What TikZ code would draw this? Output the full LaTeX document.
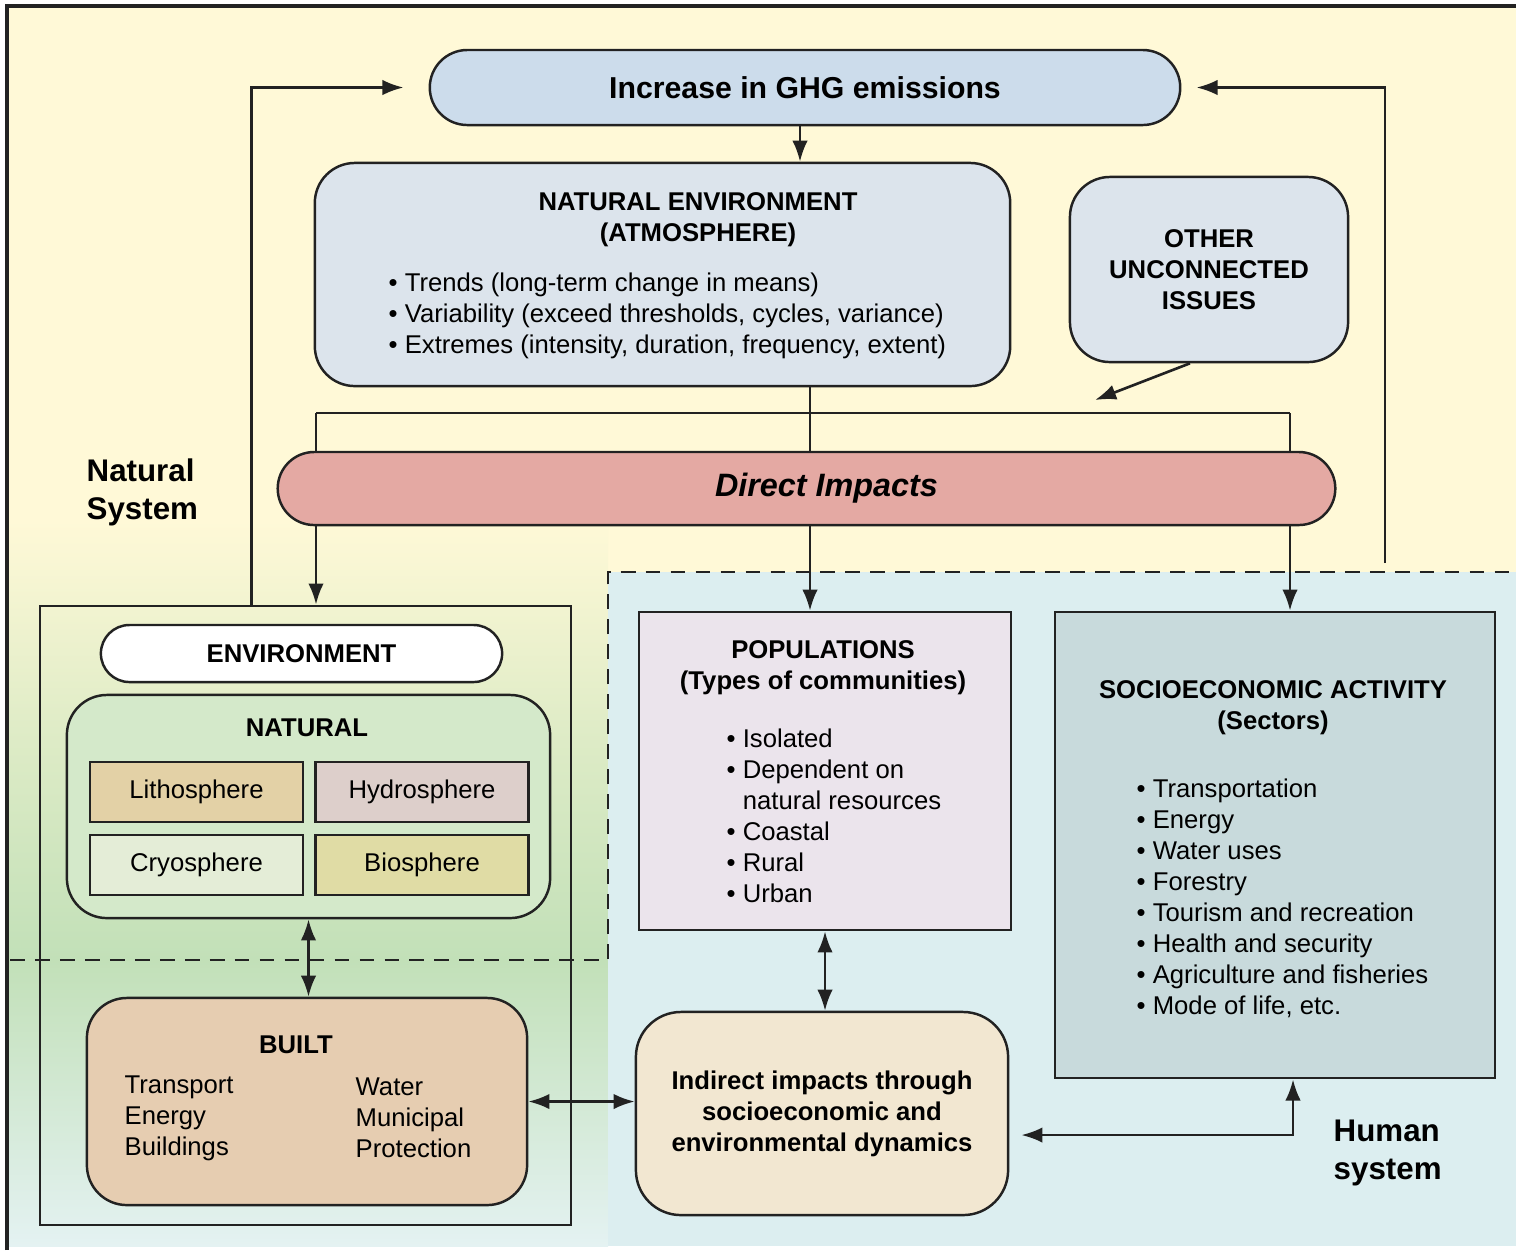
\documentclass[tikz,border=0pt]{standalone}
\usepackage{fontspec}
\setmainfont{Liberation Sans}
\usepackage{tikz}
\usetikzlibrary{arrows.meta, shapes.misc, calc}
\usepackage{xcolor}
\definecolor{lineblack}{HTML}{222222}
\definecolor{paper}{HTML}{FFF9D7}
\definecolor{leafgreen}{HTML}{C2E0B8}
\definecolor{paleblue}{HTML}{E4F2F2}
\definecolor{humanblue}{HTML}{DCEEF0}
\definecolor{ghgblue}{HTML}{CCDCEB}
\definecolor{envblue}{HTML}{DCE4EC}
\definecolor{impactred}{HTML}{E4A9A3}
\definecolor{naturalgreen}{HTML}{D4E9CA}
\definecolor{lithotan}{HTML}{E3D1A6}
\definecolor{hydrogrey}{HTML}{DDCFCB}
\definecolor{cryogreen}{HTML}{E4EDD7}
\definecolor{biokhaki}{HTML}{E0DCA5}
\definecolor{builtpeach}{HTML}{E6CDB1}
\definecolor{indirectcream}{HTML}{F2E7D1}
\definecolor{poplilac}{HTML}{EBE4EC}
\definecolor{socioteal}{HTML}{C8DADC}

\begin{document}
\begin{tikzpicture}[x=0.01cm, y=-0.01cm,
    font=\fontsize{7.3}{8.8}\selectfont,
    >={Latex[length=6pt,width=4.4pt]},
    box/.style={draw=lineblack, line width=0.7pt, inner sep=0pt},
    pill/.style={box, rounded rectangle},
    softbox/.style={box, rounded corners=0.4cm},
    spherebox/.style={box, minimum width=2.13cm, minimum height=0.6cm},
    link/.style={line width=0.75pt, draw=lineblack},
    zone/.style={line width=0.75pt, draw=lineblack, dash pattern=on 4.2pt off 2.9pt},
    head/.style={font=\fontsize{7.3}{8.8}\selectfont\bfseries, align=center},
    bullets/.style={align=left, anchor=west, inner sep=0pt},
    sysname/.style={font=\fontsize{8.9}{10.8}\selectfont\bfseries, align=left, anchor=west, inner sep=0pt}]
    \useasboundingbox (0,0) rectangle (1516,1250);
    % Background
    \fill[paper] (8,6) rectangle (1516,1246);
    \shade[top color=paper, bottom color=leafgreen, middle color=leafgreen!55!paper] (8,520) rectangle (608,960);
    \shade[top color=leafgreen, bottom color=paleblue] (8,960) rectangle (608,1246);
    \fill[humanblue] (608,572) rectangle (1516,1246);
    \draw[line width=1.1pt, lineblack] (7,1250) -- (7,6) -- (1516,6);
    \draw[zone] (10,960) -- (608,960) -- (608,572) -- (1516,572);
    % Top
    \node[pill, fill=ghgblue, minimum width=7.5cm, minimum height=0.75cm,
          font=\fontsize{8.6}{10}\selectfont\bfseries] (ghg) at (805,87.5) {Increase in GHG emissions};
    \node[softbox, fill=envblue, minimum width=6.95cm, minimum height=2.23cm] (natenv) at (662.5,274.5) {};
    \node[head] at (698,220) {NATURAL ENVIRONMENT\\(ATMOSPHERE)};
    \node[bullets] at (388,316) {\textbullet\ Trends (long-term change in means)\\
        \textbullet\ Variability (exceed thresholds, cycles, variance)\\
        \textbullet\ Extremes (intensity, duration, frequency, extent)};
    \node[softbox, fill=envblue, minimum width=2.78cm, minimum height=1.85cm, head] (other) at (1209,269.5) {OTHER\\UNCONNECTED\\ISSUES};
    \node[pill, fill=impactred, minimum width=10.57cm, minimum height=0.73cm,
          font=\fontsize{9.2}{11}\selectfont\bfseries\itshape] (direct) at (806.5,488.5) {\hspace{0.4cm}Direct Impacts};
    \node[sysname] at (86,492) {Natural\\System};
    \node[sysname] at (1333,1153) {Human\\system};
    % Natural system
    \node[box, minimum width=5.31cm, minimum height=6.19cm] (natbox) at (305.5,915.5) {};
    \node[pill, fill=white, minimum width=4.01cm, minimum height=0.57cm, head] (envpill) at (301.5,653.5) {ENVIRONMENT};
    \node[softbox, fill=naturalgreen, minimum width=4.83cm, minimum height=2.23cm] (natural) at (308.5,806.5) {};
    \node[head] at (307,728) {NATURAL};
    \node[spherebox, fill=lithotan] (litho) at (196.5,792) {Lithosphere};
    \node[spherebox, fill=hydrogrey] (hydro) at (422,792) {Hydrosphere};
    \node[spherebox, fill=cryogreen] (cryo) at (196.5,865) {Cryosphere};
    \node[spherebox, fill=biokhaki] (bio) at (422,865) {Biosphere};
    \node[softbox, fill=builtpeach, minimum width=4.4cm, minimum height=2.07cm] (built) at (307,1101.5) {};
    \node[head] at (296,1045) {BUILT};
    \node[bullets] at (124,1118) {Transport\\Energy\\Buildings};
    \node[bullets] at (355,1118) {Water\\Municipal\\Protection};
    % Human system
    \node[box, fill=poplilac, minimum width=3.72cm, minimum height=3.18cm] (pop) at (825,771) {};
    \node[head] at (823,668) {POPULATIONS\\(Types of communities)};
    \node[bullets] at (726,816) {\textbullet\ Isolated\\
        \textbullet\ Dependent on\\
        \phantom{\textbullet\ }natural resources\\
        \textbullet\ Coastal\\
        \textbullet\ Rural\\
        \textbullet\ Urban};
    \node[box, fill=socioteal, minimum width=4.4cm, minimum height=4.66cm] (socio) at (1275,845) {};
    \node[head] at (1273,708) {SOCIOECONOMIC ACTIVITY\\(Sectors)};
    \node[bullets] at (1136,898.5) {\textbullet\ Transportation\\
        \textbullet\ Energy\\
        \textbullet\ Water uses\\
        \textbullet\ Forestry\\
        \textbullet\ Tourism and recreation\\
        \textbullet\ Health and security\\
        \textbullet\ Agriculture and fisheries\\
        \textbullet\ Mode of life, etc.};
    \node[softbox, fill=indirectcream, minimum width=3.72cm, minimum height=2.03cm, rounded corners=0.45cm, head] (indirect) at (822,1113.5)
        {Indirect impacts through\\socioeconomic and\\environmental dynamics};
    % Connectors
    \coordinate (barL) at (316,413);
    \coordinate (barR) at (1290,413);
    \coordinate (dropP) at (810,413);
    \coordinate (otherend) at (1095,400);
    \coordinate (fbR) at (1385,563);
    \draw[link, ->] ([xshift=-0.05cm]ghg.south) -- ([xshift=-0.05cm]ghg.south |- natenv.north);
    \draw[link] (barL) -- (barR);
    \draw[link] (barL) -- (barL |- direct.north);
    \draw[link] (barR) -- (barR |- direct.north);
    \draw[link] (natenv.south -| dropP) -- (dropP |- direct.north);
    \draw[link, ->] ([xshift=-0.19cm]other.south) -- (otherend);
    \draw[link, ->] (barL |- direct.south) -- (barL |- natbox.north);
    \draw[link, ->] (dropP |- direct.south) -- (dropP |- pop.north);
    \draw[link, ->] (barR |- direct.south) -- (barR |- socio.north);
    \draw[link, ->, shorten >=0.25cm] ([xshift=2.13cm]natbox.north west) |- (ghg.west);
    \draw[link, ->, shorten >=0.15cm] (fbR) |- (ghg.east);
    \draw[link, <->] (natural.south) -- (natural.south |- built.north);
    \draw[link, <->] (built.east) -- (built.east -| indirect.west);
    \draw[link, <->] (pop.south) -- (pop.south |- indirect.north);
    \draw[link, <->, shorten <=0.12cm] ([yshift=-0.215cm]indirect.east) -| ([xshift=0.18cm]socio.south);
\end{tikzpicture}
\end{document}
